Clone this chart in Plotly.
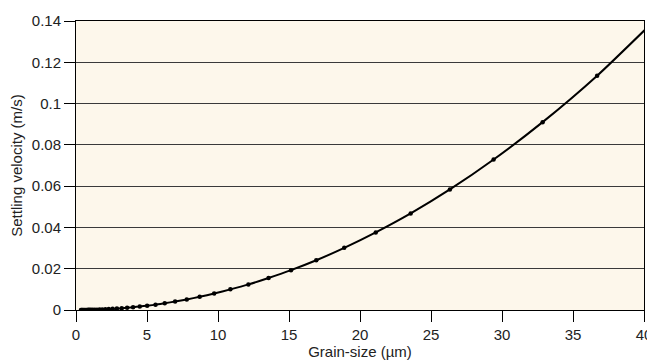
import plotly.graph_objects as go

# Grain size (µm) and settling velocity (m/s)
grain_size = [0.35, 0.39, 0.44, 0.49, 0.55, 0.61, 0.68, 0.76, 0.85, 0.95,
              1.06, 1.19, 1.33, 1.48, 1.66, 1.85, 2.07, 2.31, 2.58, 2.88,
              3.22, 3.60, 4.02, 4.49, 5.01, 5.60, 6.25, 6.98, 7.80, 8.71,
              9.73, 10.87, 12.14, 13.56, 15.14, 16.92, 18.89, 21.11, 23.57,
              26.33, 29.41, 32.86, 36.70, 41.00]
settling_velocity = [0.00001, 0.000013, 0.000016, 0.00002, 0.000025, 0.000031,
                     0.000039, 0.000049, 0.000061, 0.000076, 0.000095, 0.00012,
                     0.00015, 0.00018, 0.00023, 0.00029, 0.00036, 0.00045,
                     0.00056, 0.0007, 0.00087, 0.00109, 0.00136, 0.0017,
                     0.0021, 0.0026, 0.0033, 0.0041, 0.0051, 0.0064, 0.0080,
                     0.0100, 0.0124, 0.0155, 0.0193, 0.0241, 0.0301, 0.0376,
                     0.0468, 0.0584, 0.0729, 0.0910, 0.1135, 0.1420]

x_ticks = [0, 5, 10, 15, 20, 25, 30, 35, 40]
y_ticks = [0, 0.02, 0.04, 0.06, 0.08, 0.1, 0.12, 0.14]
y_tick_labels = ["0", "0.02", "0.04", "0.06", "0.08", "0.1", "0.12", "0.14"]

fig = go.Figure()
fig.add_trace(go.Scatter(
    x=grain_size, y=settling_velocity,
    mode="lines+markers",
    line=dict(color="black", width=2, shape="spline", smoothing=0.6),
    marker=dict(color="black", size=4.5),
    cliponaxis=True,
    showlegend=False,
))

font = dict(family="Liberation Sans, Arial, sans-serif", size=15, color="#222222")

# page body adds an 8px offset; sizes compensate for it
fig.update_layout(
    width=647, height=355,
    margin=dict(l=68, r=11, t=13, b=53),
    paper_bgcolor="white",
    plot_bgcolor="#FDF7EB",
    font=font,
    xaxis=dict(
        range=[0, 40],
        tickvals=x_ticks,
        ticks="outside", ticklen=11, tickcolor="black", tickwidth=1,
        showline=True, linecolor="black", linewidth=1, mirror=True,
        showgrid=False, zeroline=False, automargin=False,
        title=dict(text="Grain-size (µm)", font=dict(size=15), standoff=2),
    ),
    yaxis=dict(
        range=[0, 0.14],
        tickvals=y_ticks, ticktext=y_tick_labels,
        ticks="outside", ticklen=11, tickcolor="black", tickwidth=1,
        showline=True, linecolor="black", linewidth=1, mirror=True,
        showgrid=True, gridcolor="#3a3a3a", gridwidth=1,
        zeroline=False, automargin=False,
        title=dict(text="Settling velocity (m/s)", font=dict(size=15), standoff=6),
    ),
)

fig.write_html("out.html")
